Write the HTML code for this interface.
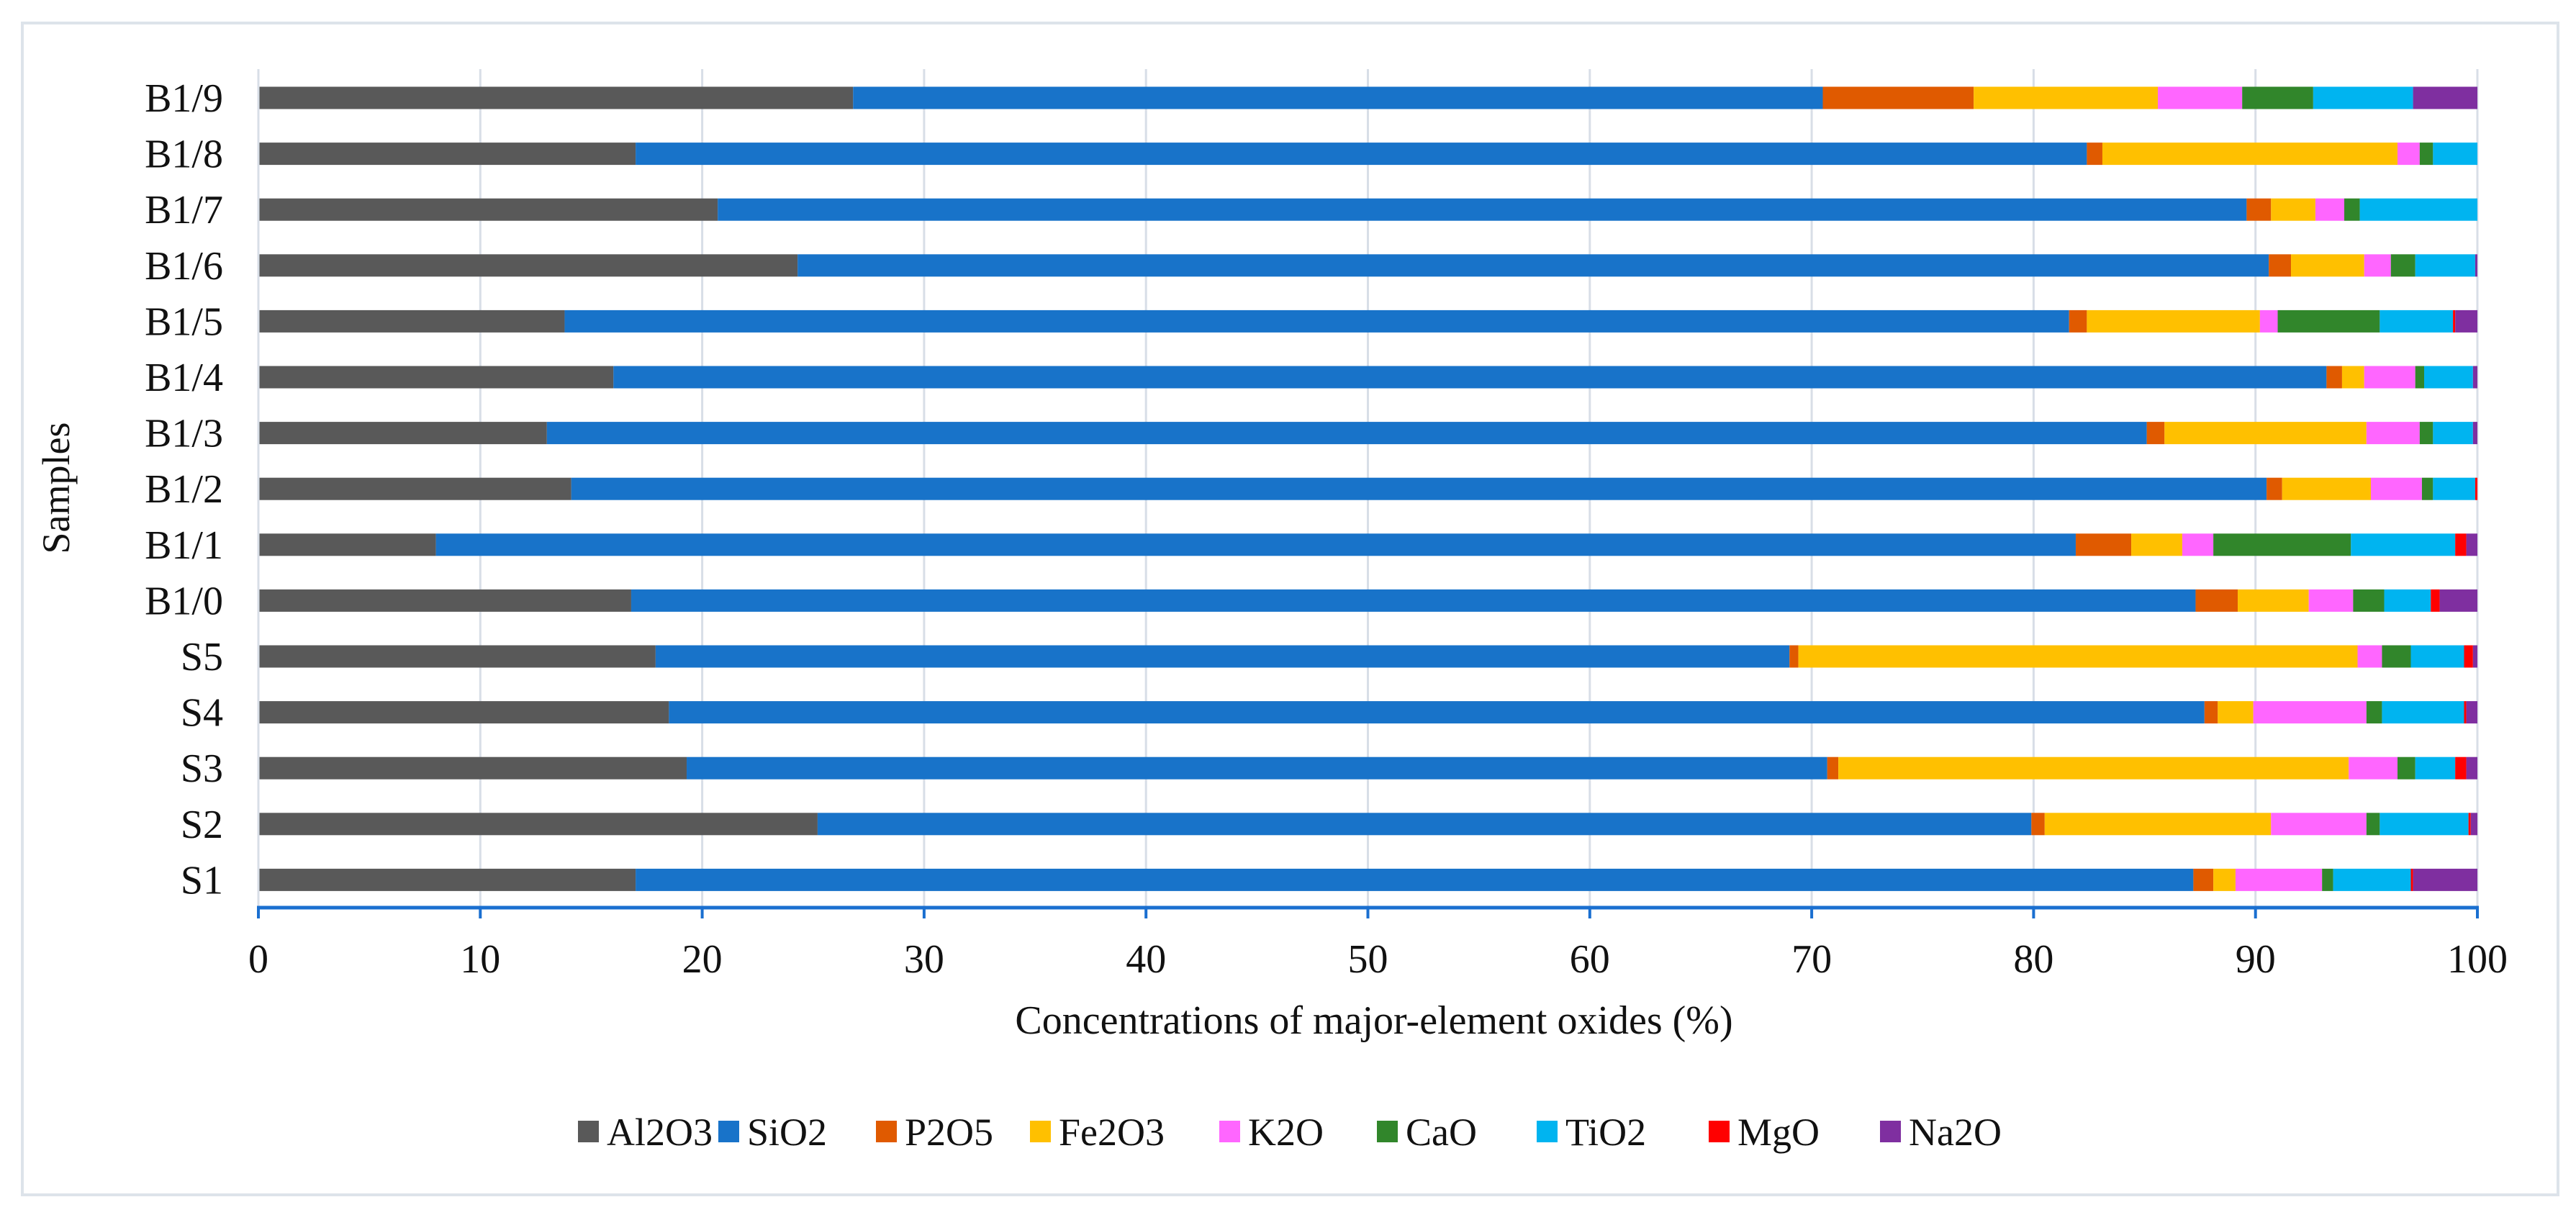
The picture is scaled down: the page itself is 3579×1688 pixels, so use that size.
<!DOCTYPE html>
<html><head><meta charset="utf-8">
<style>
html,body{margin:0;padding:0;background:#fff;}
svg{display:block;font-family:"Liberation Serif","Times New Roman",serif;}
</style></head>
<body>
<svg id="chart" width="3579" height="1688" viewBox="0 0 3579 1688" xmlns="http://www.w3.org/2000/svg">
<rect x="31" y="32" width="3523" height="1628" fill="#fff" stroke="#dde3ea" stroke-width="4"/>
<g id="grid"></g>
<g id="bars"></g>
<g id="axes"></g>
<text x="1909" y="1436" font-size="56" text-anchor="middle" fill="#111">Concentrations of major-element oxides (%)</text>
<text x="0" y="0" font-size="54" text-anchor="middle" fill="#111" transform="translate(96,678) rotate(-90)">Samples</text>
<g id="legend"></g>
</svg>
<script>
const categories = ["B1/9","B1/8","B1/7","B1/6","B1/5","B1/4","B1/3","B1/2","B1/1","B1/0","S5","S4","S3","S2","S1"];
const seriesNames = ["Al2O3","SiO2","P2O5","Fe2O3","K2O","CaO","TiO2","MgO","Na2O"];
const Al2O3 = [26.8,17.0,20.7,24.3,13.8,16.0,13.0,14.1,8.0,16.8,17.9,18.5,19.3,25.2,17.0];
const SiO2  = [43.7,65.4,68.9,66.3,67.8,77.2,72.1,76.4,73.9,70.5,51.1,69.2,51.4,54.7,70.2];
const P2O5  = [6.8,0.7,1.1,1.0,0.8,0.7,0.8,0.7,2.5,1.9,0.4,0.6,0.5,0.6,0.9];
const Fe2O3 = [8.3,13.3,2.0,3.3,7.8,1.0,9.1,4.0,2.3,3.2,25.2,1.6,23.0,10.2,1.0];
const K2O   = [3.8,1.0,1.3,1.2,0.8,2.3,2.4,2.3,1.4,2.0,1.1,5.1,2.2,4.3,3.9];
const CaO   = [3.2,0.6,0.7,1.1,4.6,0.4,0.6,0.5,6.2,1.4,1.3,0.7,0.8,0.6,0.5];
const TiO2  = [4.5,2.0,5.3,2.7,3.3,2.2,1.8,1.9,4.7,2.1,2.4,3.7,1.8,4.0,3.5];
const MgO   = [0,0,0,0,0.1,0,0,0.1,0.5,0.4,0.4,0.1,0.5,0.1,0.1];
const Na2O  = [2.9,0,0,0.1,1.0,0.2,0.2,0,0.5,1.7,0.2,0.5,0.5,0.3,2.9];
const xTicks = [0,10,20,30,40,50,60,70,80,90,100];

const series = [Al2O3,SiO2,P2O5,Fe2O3,K2O,CaO,TiO2,MgO,Na2O];
const colors = ["#595959","#1873c9","#e05a00","#ffc000","#ff66ff","#31862b","#00b4f0","#ff0000","#7f2fa0"];
const NS="http://www.w3.org/2000/svg";
const X0=359, X1=3442, Y0=96, AXY=1261, ROW0=136, PITCH=77.6, BH=31;
const xs = v => X0 + (v/100)*(X1-X0);
const yc = i => ROW0 + i*PITCH;
function mk(tag, attrs, parent){const e=document.createElementNS(NS,tag);for(const k in attrs)e.setAttribute(k,attrs[k]);parent.appendChild(e);return e;}
const grid=document.getElementById('grid'), bars=document.getElementById('bars'), axes=document.getElementById('axes'), legend=document.getElementById('legend');
xTicks.forEach(t=>{
  if(t>0){const g=mk('line',{x1:xs(t),x2:xs(t),y1:Y0,y2:AXY,stroke:'#d8dee7','stroke-width':3},grid);
  
  }
  const tk=mk('line',{x1:xs(t),x2:xs(t),y1:AXY,y2:AXY+15,stroke:'#1a6fd0','stroke-width':4},axes);
  
  
  const lb=mk('text',{x:xs(t),y:AXY+90,'font-size':56,'text-anchor':'middle',fill:'#111'},axes);
  lb.textContent=t;
  
  
});
const ya=mk('line',{x1:X0,x2:X0,y1:Y0,y2:AXY,stroke:'#d8dee7','stroke-width':3},axes);


const xa=mk('line',{x1:X0-2,x2:X1+2,y1:AXY,y2:AXY,stroke:'#1a6fd0','stroke-width':5},axes);


categories.forEach((c,i)=>{
  let acc=0;
  series.forEach((s,k)=>{
    const v=s[i];
    if(v>0){const r=mk('rect',{x:xs(acc),y:yc(i)-BH/2,width:xs(acc+v)-xs(acc),height:BH,fill:colors[k]},bars);
    
    }
    acc+=v;
  });
  const lb=mk('text',{x:310,y:yc(i)+19,'font-size':56,'text-anchor':'end',fill:'#111'},axes);
  lb.textContent=c;
  
  
});
const legX=[803,998,1217,1431,1694,1913,2135,2374,2612];
seriesNames.forEach((n,k)=>{
  const g=mk('g',{},legend);
  
  
  mk('rect',{x:legX[k],y:1557,width:29,height:30,fill:colors[k]},g);
  const t=mk('text',{x:legX[k]+40,y:1591,'font-size':54,fill:'#111'},g);
  t.textContent=n;
});
</script>
</body></html>
